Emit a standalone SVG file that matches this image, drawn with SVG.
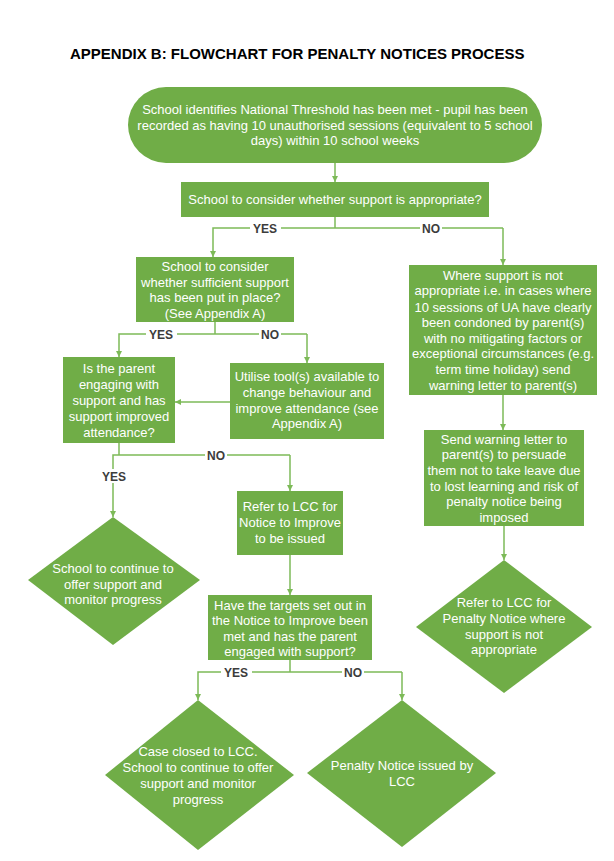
<svg xmlns="http://www.w3.org/2000/svg" width="614" height="861" viewBox="0 0 614 861">
<defs>
<style>
.n{fill:#70AD47;}
.t{font-family:"Liberation Sans",Arial,sans-serif;font-size:13px;fill:#ffffff;text-anchor:middle;}
.c{stroke:#7DBA58;stroke-width:1.5;fill:none;}
.lb{font-family:"Liberation Sans",Arial,sans-serif;font-size:12px;font-weight:bold;fill:#3C3C3C;text-anchor:middle;}
.bg{fill:#ffffff;}
.title{font-family:"Liberation Sans",Arial,sans-serif;font-size:15px;font-weight:bold;fill:#000000;}
</style>
<marker id="ah" viewBox="0 0 10 10" refX="10" refY="5" markerWidth="6" markerHeight="6" markerUnits="userSpaceOnUse" orient="auto">
<path d="M0,0 L10,5 L0,10 Z" fill="#7DBA58"/>
</marker>
</defs>
<rect width="614" height="861" fill="#ffffff"/>
<text class="title" x="70" y="59">APPENDIX B: FLOWCHART FOR PENALTY NOTICES PROCESS</text>

<g id="connectors">
<path class="c" d="M335,163 V182" marker-end="url(#ah)"/>
<path class="c" d="M335,217 V228"/>
<path class="c" d="M503,228 H213 V257" marker-end="url(#ah)"/>
<path class="c" d="M503,228 V265" marker-end="url(#ah)"/>
<path class="c" d="M215,322 V334"/>
<path class="c" d="M307,334 H119 V357" marker-end="url(#ah)"/>
<path class="c" d="M307,334 V363" marker-end="url(#ah)"/>
<path class="c" d="M230,402 H175" marker-end="url(#ah)"/>
<path class="c" d="M119,443 V455"/>
<path class="c" d="M290,455 H113 V517" marker-end="url(#ah)"/>
<path class="c" d="M290,455 V491" marker-end="url(#ah)"/>
<path class="c" d="M503,395 V430" marker-end="url(#ah)"/>
<path class="c" d="M504,526 V560" marker-end="url(#ah)"/>
<path class="c" d="M290,555 V595" marker-end="url(#ah)"/>
<path class="c" d="M290,660 V672"/>
<path class="c" d="M402,672 H198 V700" marker-end="url(#ah)"/>
<path class="c" d="M402,672 V700" marker-end="url(#ah)"/>
<rect class="bg" x="250" y="221" width="31" height="14"/>
<text class="lb" x="265" y="232.5">YES</text>
<rect class="bg" x="420" y="221" width="22" height="14"/>
<text class="lb" x="431" y="232.5">NO</text>
<rect class="bg" x="146" y="327" width="31" height="14"/>
<text class="lb" x="161" y="338.5">YES</text>
<rect class="bg" x="259" y="327" width="22" height="14"/>
<text class="lb" x="270" y="338.5">NO</text>
<rect class="bg" x="205" y="448" width="22" height="14"/>
<text class="lb" x="216" y="459.5">NO</text>
<rect class="bg" x="99" y="469" width="31" height="14"/>
<text class="lb" x="114" y="480.5">YES</text>
<rect class="bg" x="221" y="665" width="31" height="14"/>
<text class="lb" x="236" y="676.5">YES</text>
<rect class="bg" x="342" y="665" width="22" height="14"/>
<text class="lb" x="353" y="676.5">NO</text>
</g>

<g id="start">
<rect class="n" x="128" y="87" width="414" height="76" rx="38" ry="38"/>
<text class="t" x="335" y="113.5">School identifies National Threshold has been met - pupil has been</text>
<text class="t" x="335" y="129.5">recorded as having 10 unauthorised sessions (equivalent to 5 school</text>
<text class="t" x="335" y="144.5">days) within 10 school weeks</text>
</g>

<g id="support-appropriate">
<rect class="n" x="181" y="182" width="308" height="35"/>
<text class="t" x="335" y="203.5">School to consider whether support is appropriate?</text>
</g>

<g id="sufficient-support">
<rect class="n" x="136" y="257" width="158" height="65"/>
<text class="t" x="215" y="271">School to consider</text>
<text class="t" x="215" y="286.5">whether sufficient support</text>
<text class="t" x="215" y="302">has been put in place?</text>
<text class="t" x="215" y="318">(See Appendix A)</text>
</g>

<g id="parent-engaging">
<rect class="n" x="63" y="357" width="112" height="86"/>
<text class="t" x="119" y="372.5">Is the parent</text>
<text class="t" x="119" y="388.5">engaging with</text>
<text class="t" x="119" y="405">support and has</text>
<text class="t" x="119" y="421">support improved</text>
<text class="t" x="119" y="436.5">attendance?</text>
</g>

<g id="utilise-tools">
<rect class="n" x="230" y="363" width="154" height="76"/>
<text class="t" x="307" y="381">Utilise tool(s) available to</text>
<text class="t" x="307" y="397">change behaviour and</text>
<text class="t" x="307" y="413">improve attendance (see</text>
<text class="t" x="307" y="428">Appendix A)</text>
</g>

<g id="not-appropriate">
<rect class="n" x="409" y="265" width="188" height="130"/>
<text class="t" x="503" y="279.5">Where support is not</text>
<text class="t" x="503" y="295">appropriate i.e. in cases where</text>
<text class="t" x="503" y="311.5">10 sessions of UA have clearly</text>
<text class="t" x="503" y="326.5">been condoned by parent(s)</text>
<text class="t" x="503" y="342.5">with no mitigating factors or</text>
<text class="t" x="503" y="357.5">exceptional circumstances (e.g.</text>
<text class="t" x="503" y="373.5">term time holiday) send</text>
<text class="t" x="503" y="389.5">warning letter to parent(s)</text>
</g>

<g id="warning-letter">
<rect class="n" x="424" y="430" width="160" height="96"/>
<text class="t" x="504" y="444">Send warning letter to</text>
<text class="t" x="504" y="459">parent(s) to persuade</text>
<text class="t" x="504" y="474.5">them not to take leave due</text>
<text class="t" x="504" y="490.5">to lost learning and risk of</text>
<text class="t" x="504" y="506">penalty notice being</text>
<text class="t" x="504" y="522">imposed</text>
</g>

<g id="refer-penalty">
<polygon class="n" points="504,560 592,627 504,693 416,627"/>
<text class="t" x="504" y="607">Refer to LCC for</text>
<text class="t" x="504" y="623">Penalty Notice where</text>
<text class="t" x="504" y="638.5">support is not</text>
<text class="t" x="504" y="654">appropriate</text>
</g>

<g id="continue-support">
<polygon class="n" points="113,517 200,580 113,645 28,580"/>
<text class="t" x="113" y="573">School to continue to</text>
<text class="t" x="113" y="588.5">offer support and</text>
<text class="t" x="113" y="604">monitor progress</text>
</g>

<g id="notice-to-improve">
<rect class="n" x="237" y="491" width="106" height="64"/>
<text class="t" x="290" y="511">Refer to LCC for</text>
<text class="t" x="290" y="527">Notice to Improve</text>
<text class="t" x="290" y="543">to be issued</text>
</g>

<g id="targets-met">
<rect class="n" x="208" y="595" width="164" height="65"/>
<text class="t" x="290" y="609.5">Have the targets set out in</text>
<text class="t" x="290" y="625">the Notice to Improve been</text>
<text class="t" x="290" y="640.5">met and has the parent</text>
<text class="t" x="290" y="656">engaged with support?</text>
</g>

<g id="case-closed">
<polygon class="n" points="198,700 294,775 198,850 105,775"/>
<text class="t" x="198" y="756">Case closed to LCC.</text>
<text class="t" x="198" y="772">School to continue to offer</text>
<text class="t" x="198" y="788">support and monitor</text>
<text class="t" x="198" y="803.5">progress</text>
</g>

<g id="penalty-issued">
<polygon class="n" points="402,700 496,773 402,847 307,773"/>
<text class="t" x="402" y="770">Penalty Notice issued by</text>
<text class="t" x="402" y="785.5">LCC</text>
</g>
</svg>
